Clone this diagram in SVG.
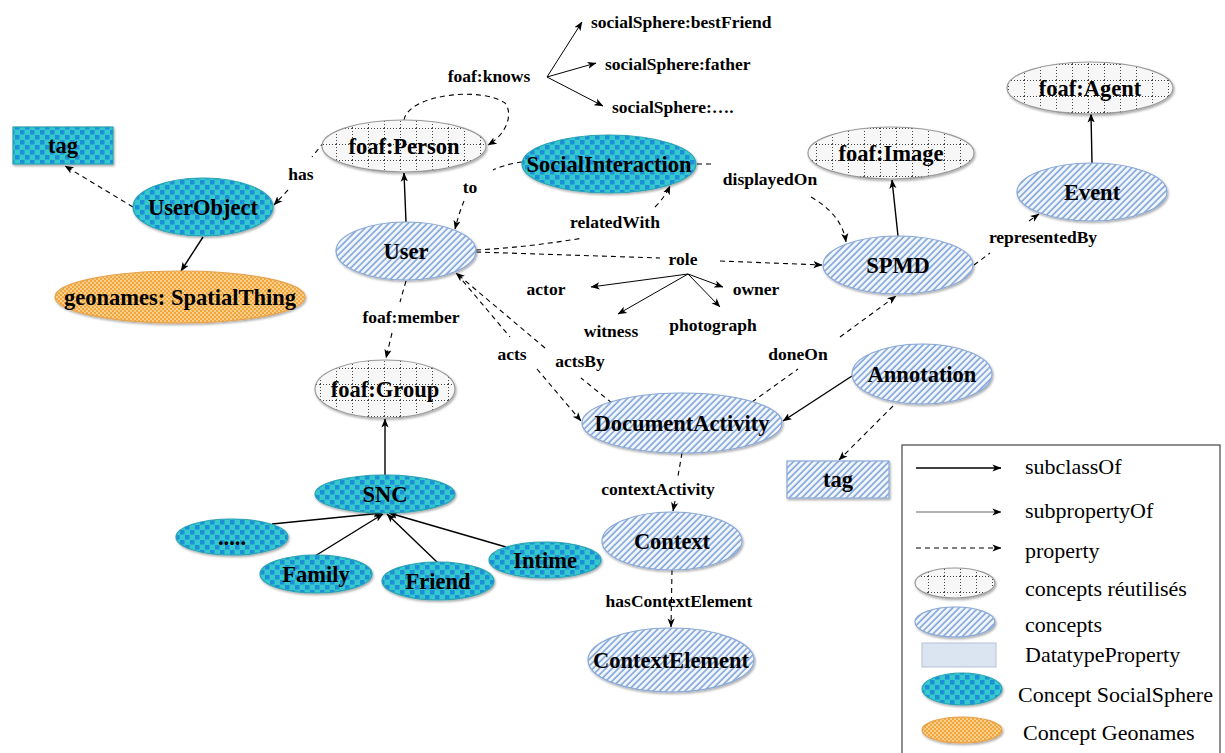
<svg xmlns="http://www.w3.org/2000/svg" width="1225" height="753" viewBox="0 0 1225 753">
  <style>
    .lbl { font-family: "Liberation Serif", "Times New Roman", serif; font-weight: bold; font-size: 17.5px; text-anchor: middle; fill: #000; }
    .lbl.start { text-anchor: start; }
    .nt { font-family: "Liberation Serif", "Times New Roman", serif; font-weight: bold; font-size: 22.5px; text-anchor: middle; fill: #000; }
    .lg { font-family: "Liberation Serif", "Times New Roman", serif; font-size: 22px; fill: #000; }
    .sub { stroke: #000; stroke-width: 1.4; fill: none; marker-end: url(#ah); }
    .prop { stroke: #000; stroke-width: 1.1; fill: none; stroke-dasharray: 5 4; }
    .prop.arr { marker-end: url(#ah); }
    .thin { stroke: #000; stroke-width: 1; fill: none; marker-end: url(#ah); }
    .reused { fill: url(#grid); stroke: #9a9a9a; stroke-width: 1.2; filter: url(#sh); }
    .concept { fill: url(#hatch); stroke: #8aa8d8; stroke-width: 1.2; filter: url(#sh); }
    .social { fill: url(#teal); stroke: #2aa3b4; stroke-width: 1.2; filter: url(#sh); }
    .geo { fill: url(#orange); stroke: #e6a24e; stroke-width: 1.2; filter: url(#sh); }
  </style>
  <defs>
    <filter id="sh" x="-10%" y="-10%" width="120%" height="130%">
      <feDropShadow dx="1" dy="1.5" stdDeviation="0.8" flood-color="#000" flood-opacity="0.35"/>
    </filter>
    <pattern id="grid" width="16" height="16" patternUnits="userSpaceOnUse">
      <rect width="16" height="16" fill="#f7f7f7"/>
      <path d="M0 0.5 H16 M0.5 0 V16" stroke="#444" stroke-width="1" stroke-dasharray="1 2"/>
    </pattern>
    <pattern id="hatch" width="4.5" height="4.5" patternUnits="userSpaceOnUse" patternTransform="rotate(45)">
      <rect width="4.5" height="4.5" fill="#f1f5fc"/>
      <line x1="1" y1="0" x2="1" y2="4.5" stroke="#729ad4" stroke-width="1.4"/>
    </pattern>
    <pattern id="teal" width="10" height="10" patternUnits="userSpaceOnUse">
      <rect width="10" height="10" fill="#36c8cc"/>
      <rect x="0" y="0" width="4.5" height="4.5" fill="#1a8fd8"/>
      <rect x="5" y="5" width="4.5" height="4.5" fill="#1a8fd8"/>
    </pattern>
    <pattern id="orange" width="4" height="4" patternUnits="userSpaceOnUse">
      <rect width="4" height="4" fill="#f2a43e"/>
      <rect width="2" height="2" fill="#f8d08c"/>
      <rect x="2" y="2" width="2" height="2" fill="#f8d08c"/>
    </pattern>
    <marker id="ah" viewBox="0 0 10 10" refX="9.5" refY="5" markerWidth="9" markerHeight="9" markerUnits="userSpaceOnUse" orient="auto">
      <path d="M0,1 L10,5 L0,9 L2.5,5 z" fill="#000"/>
    </marker>
  </defs>

  <rect width="1225" height="753" fill="#fff"/>

  <!-- connectors -->
  <g id="connectors">
    <!-- has -->
    <path class="prop" d="M324,142 L312,157"/>
    <path class="prop arr" d="M288,190 L274,205"/>
    <!-- UserObject -> tag -->
    <path class="prop arr" d="M133,207 L65,166"/>
    <!-- UserObject -> geonames -->
    <path class="sub" d="M203,237 L181,271"/>
    <!-- User -> foaf:Person -->
    <path class="sub" d="M406,222 L404,173"/>
    <!-- foaf:knows loop -->
    <path class="prop arr" d="M404,120 C408,95 480,86 505,103 C513,113 508,133 488,145"/>
    <!-- foaf:knows specialisations -->
    <path class="thin" d="M547,77 L582,22"/>
    <path class="thin" d="M547,77 L596,63"/>
    <path class="thin" d="M547,77 L603,106"/>
    <!-- to -->
    <path class="prop" d="M522,162 Q506,164 493,170"/>
    <path class="prop arr" d="M464,201 Q459,213 455,229"/>
    <!-- relatedWith -->
    <path class="prop" d="M476,250 Q530,247 583,238"/>
    <path class="prop arr" d="M655,207 Q665,197 670,186"/>
    <!-- role -->
    <path class="prop" d="M476,252 L660,258"/>
    <path class="prop arr" d="M720,261 L822,265"/>
    <!-- role values -->
    <path class="thin" d="M688,274 L591,287"/>
    <path class="thin" d="M688,274 L618,314"/>
    <path class="thin" d="M688,274 L723,287"/>
    <path class="thin" d="M688,274 L720,307"/>
    <!-- acts -->
    <path class="prop" d="M457,274 L510,337"/>
    <path class="prop arr" d="M537,369 L581,421"/>
    <!-- actsBy -->
    <path class="prop" d="M612,403 L581,378"/>
    <path class="prop arr" d="M545,348 L456,273"/>
    <!-- foaf:member -->
    <path class="prop" d="M406,281 L400,302"/>
    <path class="prop arr" d="M392,333 L386,358"/>
    <!-- SNC -> foaf:Group -->
    <path class="sub" d="M385,475 L385,419"/>
    <!-- SNC subclasses -->
    <path class="sub" d="M272,524 L382,513"/>
    <path class="sub" d="M315,556 L383,514"/>
    <path class="sub" d="M438,563 L387,514"/>
    <path class="sub" d="M506,547 L389,513"/>
    <!-- doneOn -->
    <path class="prop" d="M752,402 L798,369"/>
    <path class="prop arr" d="M840,337 L896,296"/>
    <!-- Annotation -> DocumentActivity -->
    <path class="sub" d="M852,376 L783,421"/>
    <!-- Annotation -> tag -->
    <path class="prop arr" d="M893,406 L839,460"/>
    <!-- contextActivity -->
    <path class="prop" d="M682,453 L678,476"/>
    <path class="prop arr" d="M675,501 L673,511"/>
    <!-- hasContextElement -->
    <path class="prop arr" d="M672,570 L671,627"/>
    <!-- displayedOn -->
    <path class="prop" d="M697,164 L713,164"/>
    <path class="prop arr" d="M811,197 C830,208 843,222 846,242"/>
    <!-- SPMD -> foaf:Image -->
    <path class="sub" d="M898,236 L892,180"/>
    <!-- representedBy -->
    <path class="prop" d="M974,265 L990,253"/>
    <path class="prop arr" d="M1029,221 L1039,214"/>
    <!-- Event -> foaf:Agent -->
    <path class="sub" d="M1092,163 L1091,114"/>

    <!-- connector labels -->
    <text class="lbl" x="489" y="82">foaf:knows</text>
    <text class="lbl start" x="591" y="28">socialSphere:bestFriend</text>
    <text class="lbl start" x="605" y="70">socialSphere:father</text>
    <text class="lbl start" x="612" y="113">socialSphere:….</text>
    <text class="lbl" x="301" y="180">has</text>
    <text class="lbl" x="470" y="193">to</text>
    <text class="lbl" x="615" y="228">relatedWith</text>
    <text class="lbl" x="770" y="185">displayedOn</text>
    <text class="lbl" x="683" y="265">role</text>
    <text class="lbl" x="546" y="295">actor</text>
    <text class="lbl" x="756" y="295">owner</text>
    <text class="lbl" x="611" y="337">witness</text>
    <text class="lbl" x="713" y="331">photograph</text>
    <text class="lbl" x="1043" y="243">representedBy</text>
    <text class="lbl" x="411" y="323">foaf:member</text>
    <text class="lbl" x="512" y="360">acts</text>
    <text class="lbl" x="580" y="367">actsBy</text>
    <text class="lbl" x="798" y="360">doneOn</text>
    <text class="lbl" x="658" y="495">contextActivity</text>
    <text class="lbl" x="679" y="607">hasContextElement</text>
  </g>

  <!-- nodes -->
  <g id="tag-social">
    <rect class="social" x="13" y="127" width="100" height="37"/>
    <text class="nt" x="63" y="153">tag</text>
  </g>
  <g id="UserObject">
    <ellipse class="social" cx="203" cy="207" rx="70" ry="29"/>
    <text class="nt" x="203" y="215">UserObject</text>
  </g>
  <g id="SpatialThing">
    <ellipse class="geo" cx="180" cy="297" rx="125" ry="26"/>
    <text class="nt" x="180" y="305">geonames: SpatialThing</text>
  </g>
  <g id="foafPerson">
    <ellipse class="reused" cx="404" cy="146" rx="82" ry="26"/>
    <text class="nt" x="404" y="154">foaf:Person</text>
  </g>
  <g id="User">
    <ellipse class="concept" cx="406" cy="251" rx="70" ry="29"/>
    <text class="nt" x="406" y="259">User</text>
  </g>
  <g id="SocialInteraction">
    <ellipse class="social" cx="609" cy="164" rx="87" ry="29"/>
    <text class="nt" x="609" y="172">SocialInteraction</text>
  </g>
  <g id="foafImage">
    <ellipse class="reused" cx="891" cy="153" rx="83" ry="26"/>
    <text class="nt" x="891" y="161">foaf:Image</text>
  </g>
  <g id="foafAgent">
    <ellipse class="reused" cx="1090" cy="88" rx="83" ry="26"/>
    <text class="nt" x="1090" y="96">foaf:Agent</text>
  </g>
  <g id="Event">
    <ellipse class="concept" cx="1092" cy="192" rx="75" ry="29"/>
    <text class="nt" x="1092" y="200">Event</text>
  </g>
  <g id="SPMD">
    <ellipse class="concept" cx="898" cy="265" rx="75" ry="29"/>
    <text class="nt" x="898" y="273">SPMD</text>
  </g>
  <g id="foafGroup">
    <ellipse class="reused" cx="385" cy="389" rx="70" ry="29"/>
    <text class="nt" x="385" y="397">foaf:Group</text>
  </g>
  <g id="SNC">
    <ellipse class="social" cx="385" cy="494" rx="70" ry="19"/>
    <text class="nt" x="385" y="502">SNC</text>
  </g>
  <g id="Other">
    <ellipse class="social" cx="232" cy="537" rx="56" ry="18"/>
    <text class="nt" x="232" y="545">.....</text>
  </g>
  <g id="Family">
    <ellipse class="social" cx="316" cy="574" rx="56" ry="19"/>
    <text class="nt" x="316" y="582">Family</text>
  </g>
  <g id="Friend">
    <ellipse class="social" cx="438" cy="581" rx="56" ry="19"/>
    <text class="nt" x="438" y="589">Friend</text>
  </g>
  <g id="Intime">
    <ellipse class="social" cx="545" cy="560" rx="56" ry="18"/>
    <text class="nt" x="545" y="568">Intime</text>
  </g>
  <g id="DocumentActivity">
    <ellipse class="concept" cx="682" cy="423" rx="100" ry="30"/>
    <text class="nt" x="682" y="431">DocumentActivity</text>
  </g>
  <g id="Context">
    <ellipse class="concept" cx="672" cy="541" rx="70" ry="29"/>
    <text class="nt" x="672" y="549">Context</text>
  </g>
  <g id="ContextElement">
    <ellipse class="concept" cx="671" cy="660" rx="83" ry="32"/>
    <text class="nt" x="671" y="668">ContextElement</text>
  </g>
  <g id="Annotation">
    <ellipse class="concept" cx="922" cy="374" rx="70" ry="30"/>
    <text class="nt" x="922" y="382">Annotation</text>
  </g>
  <g id="tag-concept">
    <rect class="concept" x="787" y="461" width="102" height="37"/>
    <text class="nt" x="838" y="487">tag</text>
  </g>

  <!-- legend -->
  <g id="legend">
    <rect x="902" y="445" width="318" height="320" fill="#fff" stroke="#444" stroke-width="1.2"/>
    <path class="sub" d="M916,468 L1001,468"/>
    <path d="M916,512 L1001,512" stroke="#000" stroke-width="0.6" fill="none" marker-end="url(#ah)"/>
    <path class="prop arr" d="M916,548 L1001,548"/>
    <ellipse class="reused" cx="955" cy="583" rx="40" ry="15"/>
    <ellipse class="concept" cx="955" cy="622" rx="40" ry="15"/>
    <rect x="922" y="643" width="74" height="24" fill="#dbe5f1" stroke="#b4c2d6" stroke-width="1"/>
    <ellipse class="social" cx="962" cy="689" rx="40" ry="16"/>
    <ellipse class="geo" cx="962" cy="730" rx="40" ry="13"/>
    <text class="lg" x="1025" y="474">subclassOf</text>
    <text class="lg" x="1025" y="518">subpropertyOf</text>
    <text class="lg" x="1025" y="558">property</text>
    <text class="lg" x="1025" y="596">concepts réutilisés</text>
    <text class="lg" x="1025" y="632">concepts</text>
    <text class="lg" x="1025" y="662">DatatypeProperty</text>
    <text class="lg" x="1018" y="702">Concept SocialSphere</text>
    <text class="lg" x="1023" y="740">Concept Geonames</text>
  </g>
</svg>
